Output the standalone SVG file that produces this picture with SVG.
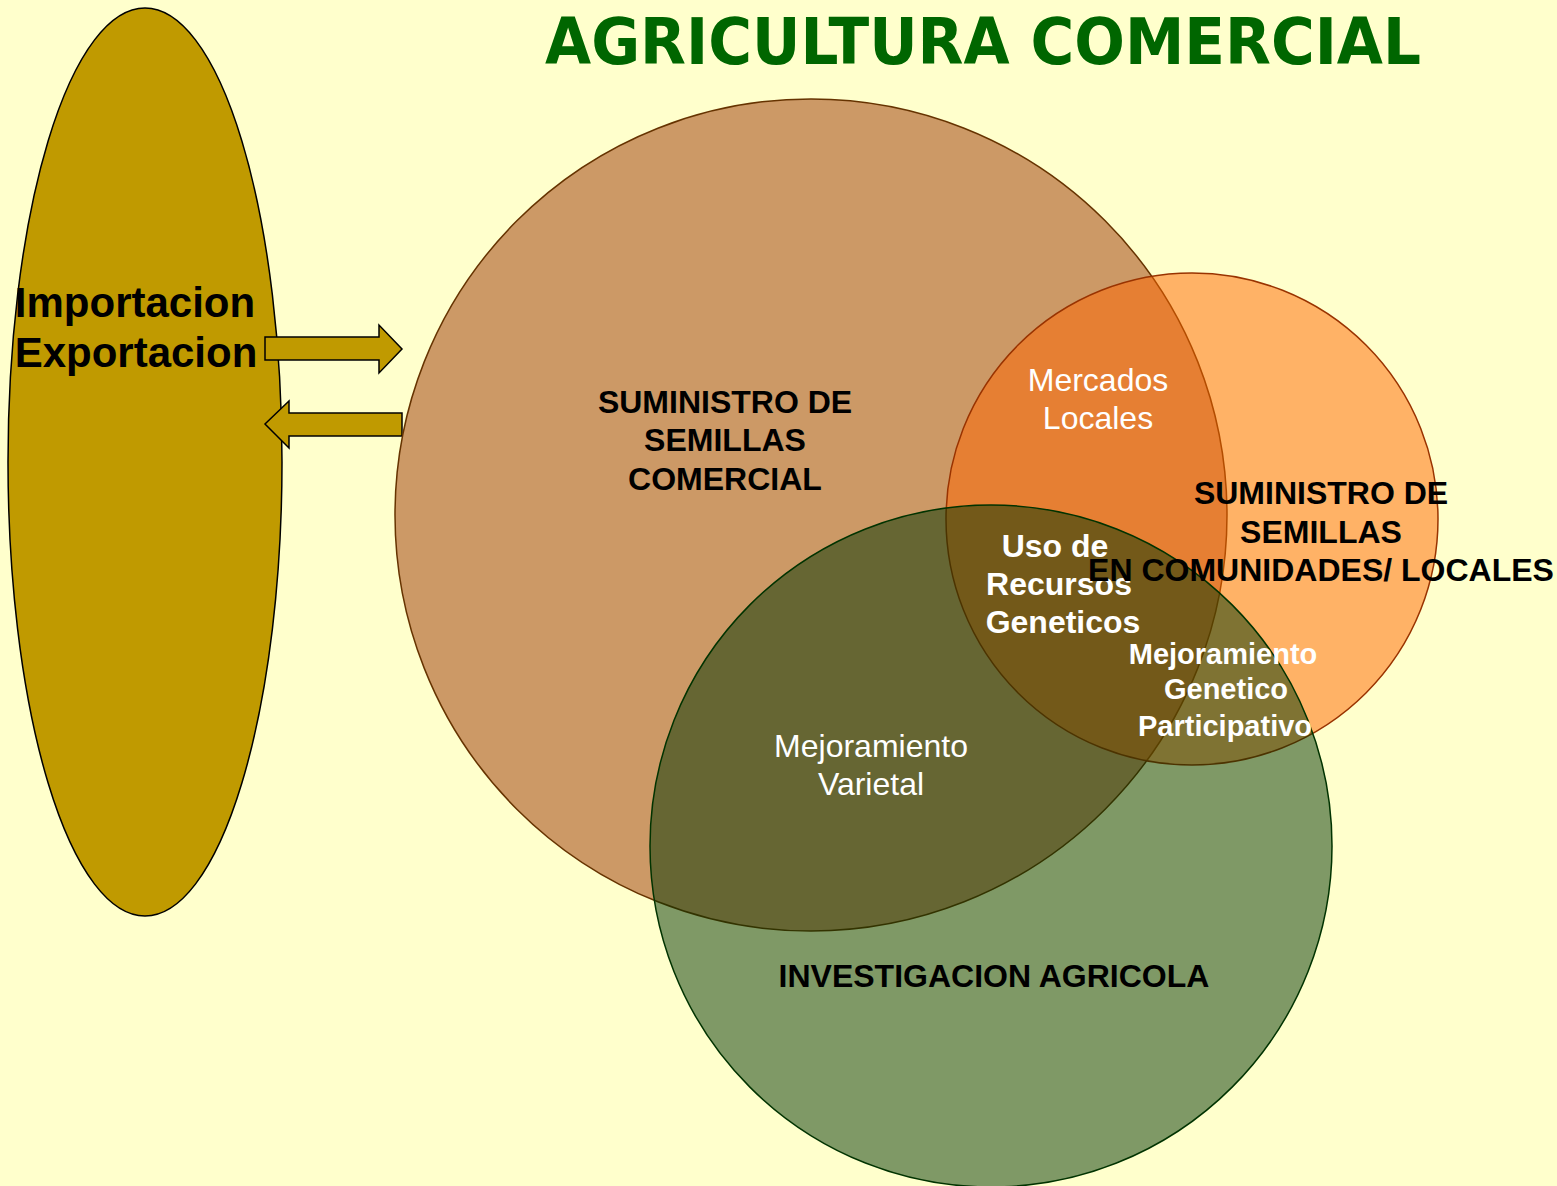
<svg xmlns="http://www.w3.org/2000/svg" width="1557" height="1186" viewBox="0 0 1557 1186">
<style>
.lbl{font-family:"Liberation Sans",Arial,sans-serif;text-anchor:middle;font-size:32px}
.b{font-weight:bold}
.blk{fill:#000}
.wht{fill:#fff}
.sm{font-size:29px}
.big{font-size:42px}
.arrow{fill:#C09A00;stroke:#000;stroke-width:1.5}
</style>
<rect width="1557" height="1186" fill="#FFFFCC"/>
<text x="983" y="64" font-family="'DejaVu Sans',Verdana,sans-serif" font-weight="bold" font-size="64" fill="#006600" text-anchor="middle" textLength="876" lengthAdjust="spacingAndGlyphs">AGRICULTURA COMERCIAL</text>
<g id="importexport">
<ellipse cx="145" cy="462" rx="137" ry="454" fill="#C09A00" stroke="#000" stroke-width="1.5"/>
<text class="lbl b blk big" x="135" y="317">Importacion</text>
<text class="lbl b blk big" x="136" y="367">Exportacion</text>
</g>
<g id="connectors">
<polygon class="arrow" points="265,337 379,337 379,325 402,349 379,373 379,360 265,360"/>
<polygon class="arrow" points="402,413 289,413 289,401 265,424 289,448 289,436 402,436"/>
</g>
<g id="comercial">
<circle cx="811" cy="515" r="416" fill="#993300" fill-opacity="0.5" stroke="#663300" stroke-width="1.5"/>
</g>
<g id="comunidades">
<circle cx="1192" cy="519" r="246" fill="#FF6600" fill-opacity="0.5" stroke="#993300" stroke-width="1.5"/>
</g>
<g id="investigacion">
<circle cx="991" cy="846" r="341" fill="#003300" fill-opacity="0.5" stroke="#003300" stroke-width="1.5"/>
</g>
<g id="labels">
<text class="lbl b blk" x="725" y="413">SUMINISTRO DE</text>
<text class="lbl b blk" x="725" y="451">SEMILLAS</text>
<text class="lbl b blk" x="725" y="490">COMERCIAL</text>
<text class="lbl wht" x="1098" y="391">Mercados</text>
<text class="lbl wht" x="1098" y="429">Locales</text>
<text class="lbl b wht" x="1055" y="557">Uso de</text>
<text class="lbl b wht" x="1059" y="595">Recursos</text>
<text class="lbl b wht" x="1063" y="633">Geneticos</text>
<text class="lbl b blk" x="1321" y="504">SUMINISTRO DE</text>
<text class="lbl b blk" x="1321" y="543">SEMILLAS</text>
<text class="lbl b blk" x="1321" y="581">EN COMUNIDADES/ LOCALES</text>
<text class="lbl b wht sm" x="1223" y="664">Mejoramiento</text>
<text class="lbl b wht sm" x="1226" y="699">Genetico</text>
<text class="lbl b wht sm" x="1225" y="736">Participativo</text>
<text class="lbl wht" x="871" y="757">Mejoramiento</text>
<text class="lbl wht" x="871" y="795">Varietal</text>
<text class="lbl b blk" x="994" y="987">INVESTIGACION AGRICOLA</text>
</g>
</svg>
